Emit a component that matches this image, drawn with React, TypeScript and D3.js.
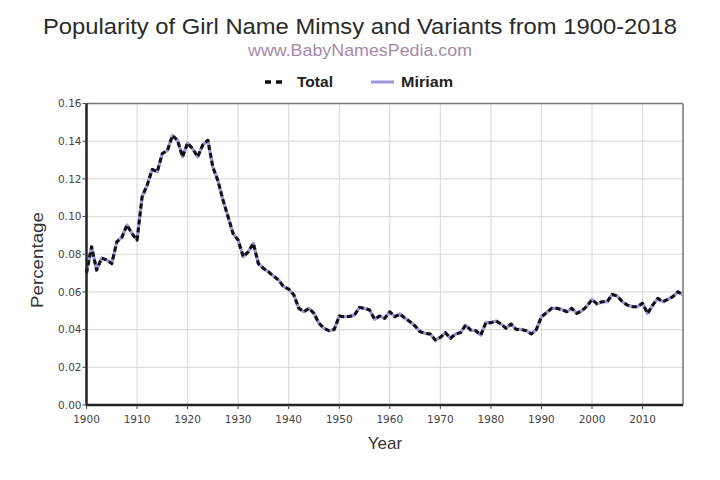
import { useMemo } from "react";
import { scaleLinear, line } from "d3";

const W = 720;
const H = 480;
const M = { top: 103.5, right: 37, bottom: 75, left: 86.5 };

const TITLE = "Popularity of Girl Name Mimsy and Variants from 1900-2018";
const SUBTITLE = "www.BabyNamesPedia.com";
const SERIES_NAMES = ["Total", "Miriam"];

const startYear = 1900;
// percentage per year, 1900..2018 (Total === Miriam)
const values = [
  0.070, 0.084, 0.0716, 0.078, 0.077, 0.075, 0.0866, 0.089, 0.0955, 0.091,
  0.0875, 0.1105, 0.1167, 0.125, 0.1238, 0.1335, 0.135, 0.143, 0.1405, 0.1317,
  0.139, 0.136, 0.1317, 0.138, 0.1405, 0.1262, 0.119, 0.1088, 0.0999, 0.091,
  0.0875, 0.0787, 0.0813, 0.0858, 0.075, 0.0725, 0.0707, 0.0684, 0.0663, 0.0628,
  0.0615, 0.0585, 0.0513, 0.0495, 0.0513, 0.0486, 0.0433, 0.0407, 0.0394, 0.0401,
  0.0472, 0.0468, 0.047, 0.0477, 0.0518, 0.0513, 0.0504, 0.0455, 0.0472, 0.046,
  0.0495, 0.0468, 0.0483, 0.046, 0.0442, 0.0419, 0.0389, 0.038, 0.0377, 0.0345,
  0.0359, 0.0384, 0.0354, 0.0377, 0.0384, 0.0424, 0.0398, 0.0394, 0.0371, 0.0437,
  0.0437, 0.0446, 0.043, 0.0407, 0.043, 0.0401, 0.0401, 0.0394, 0.0377, 0.0401,
  0.0468, 0.049, 0.0513, 0.0513, 0.0507, 0.0495, 0.0513, 0.0486, 0.05, 0.0525,
  0.056, 0.0536, 0.0548, 0.0548, 0.0587, 0.0578, 0.0548, 0.053, 0.0522, 0.0522,
  0.054, 0.0486, 0.053, 0.0566, 0.0548, 0.056, 0.0575, 0.0601, 0.0584,
];

const xTicks = [1900, 1910, 1920, 1930, 1940, 1950, 1960, 1970, 1980, 1990, 2000, 2010];
const yTicks = [0, 0.02, 0.04, 0.06, 0.08, 0.1, 0.12, 0.14, 0.16];

const FONT = "'Liberation Sans', Arial, sans-serif";
const TICK_FONT = "'DejaVu Sans', sans-serif";
const PURPLE = "#9a96d8";

export default function App() {
  const x = useMemo(
    () => scaleLinear().domain([1900, 2018]).range([M.left, W - M.right]),
    []
  );
  const y = useMemo(
    () => scaleLinear().domain([0, 0.16]).range([H - M.bottom, M.top]),
    []
  );

  const pts = values.map((v, i) => ({ year: startYear + i, v }));
  const path = line<{ year: number; v: number }>()
    .x((d) => x(d.year))
    .y((d) => y(d.v))(pts) ?? undefined;

  const x0 = M.left;
  const x1 = W - M.right;
  const y0 = H - M.bottom;
  const y1 = M.top;

  return (
    <svg width={W} height={H} style={{ position: "absolute", left: 0, top: 0, background: "#fff" }}>
      <rect x={0} y={0} width={W} height={H} fill="#fff" />

      <text x={43} y={34} fontFamily={FONT} fontSize={22} fill="#2a2a2a"
        textLength={634} lengthAdjust="spacingAndGlyphs">
        {TITLE}
      </text>
      <text x={248} y={55.5} fontFamily={FONT} fontSize={16} fill="#a48aa8"
        textLength={224} lengthAdjust="spacingAndGlyphs">
        {SUBTITLE}
      </text>

      {/* legend */}
      <line x1={265} x2={282} y1={82} y2={82} stroke="#111" strokeWidth={3.5} strokeDasharray="6 5" />
      <text x={297} y={87} fontFamily={FONT} fontSize={15} fontWeight="bold" fill="#222"
        textLength={36} lengthAdjust="spacingAndGlyphs">
        {SERIES_NAMES[0]}
      </text>
      <line x1={371} x2={394} y1={82} y2={82} stroke={PURPLE} strokeWidth={3} />
      <text x={401} y={87} fontFamily={FONT} fontSize={15} fontWeight="bold" fill="#222"
        textLength={52} lengthAdjust="spacingAndGlyphs">
        {SERIES_NAMES[1]}
      </text>

      {/* grid */}
      {xTicks.slice(1).map((t) => (
        <line key={`gx${t}`} x1={x(t)} x2={x(t)} y1={y1} y2={y0} stroke="#ddd" strokeWidth={1.2} />
      ))}
      {yTicks.slice(1, -1).map((t) => (
        <line key={`gy${t}`} x1={x0} x2={x1} y1={y(t)} y2={y(t)} stroke="#ddd" strokeWidth={1.2} />
      ))}

      {/* frame */}
      <line x1={x0} x2={x1} y1={y1} y2={y1} stroke="#777" strokeWidth={1.5} />
      <line x1={x1} x2={x1} y1={y1} y2={y0} stroke="#777" strokeWidth={1.5} />

      {/* series: Miriam underneath, Total dashed on top */}
      <path d={path} fill="none" stroke={PURPLE} strokeWidth={3.2} strokeLinejoin="round" />
      <path d={path} fill="none" stroke="#111" strokeWidth={3} strokeDasharray="5 3" strokeLinejoin="round" />

      {/* axes */}
      <line x1={x0} x2={x1} y1={y0} y2={y0} stroke="#222" strokeWidth={2.5} />
      <line x1={x0} x2={x0} y1={y1} y2={y0} stroke="#222" strokeWidth={2.5} />

      {yTicks.map((t) => (
        <g key={`yt${t}`}>
          <line x1={x0 - 4} x2={x0} y1={y(t)} y2={y(t)} stroke="#444" />
          <text x={x0 - 5} y={y(t)} dy="0.35em" textAnchor="end" fontFamily={TICK_FONT} fontSize={10.5} fill="#444">
            {t.toFixed(2)}
          </text>
        </g>
      ))}
      {xTicks.map((t) => (
        <g key={`xt${t}`}>
          <line x1={x(t)} x2={x(t)} y1={y0} y2={y0 + 4} stroke="#444" />
          <text x={x(t)} y={y0 + 18} textAnchor="middle" fontFamily={TICK_FONT} fontSize={10.5} fill="#444">
            {t}
          </text>
        </g>
      ))}

      <text x={385} y={449} textAnchor="middle" fontFamily={FONT} fontSize={17} fill="#333">
        Year
      </text>
      <text
        transform={`translate(42.5,260) rotate(-90)`}
        textAnchor="middle"
        fontFamily={FONT}
        fontSize={17}
        fill="#333"
        textLength={96}
        lengthAdjust="spacingAndGlyphs"
      >
        Percentage
      </text>
    </svg>
  );
}
